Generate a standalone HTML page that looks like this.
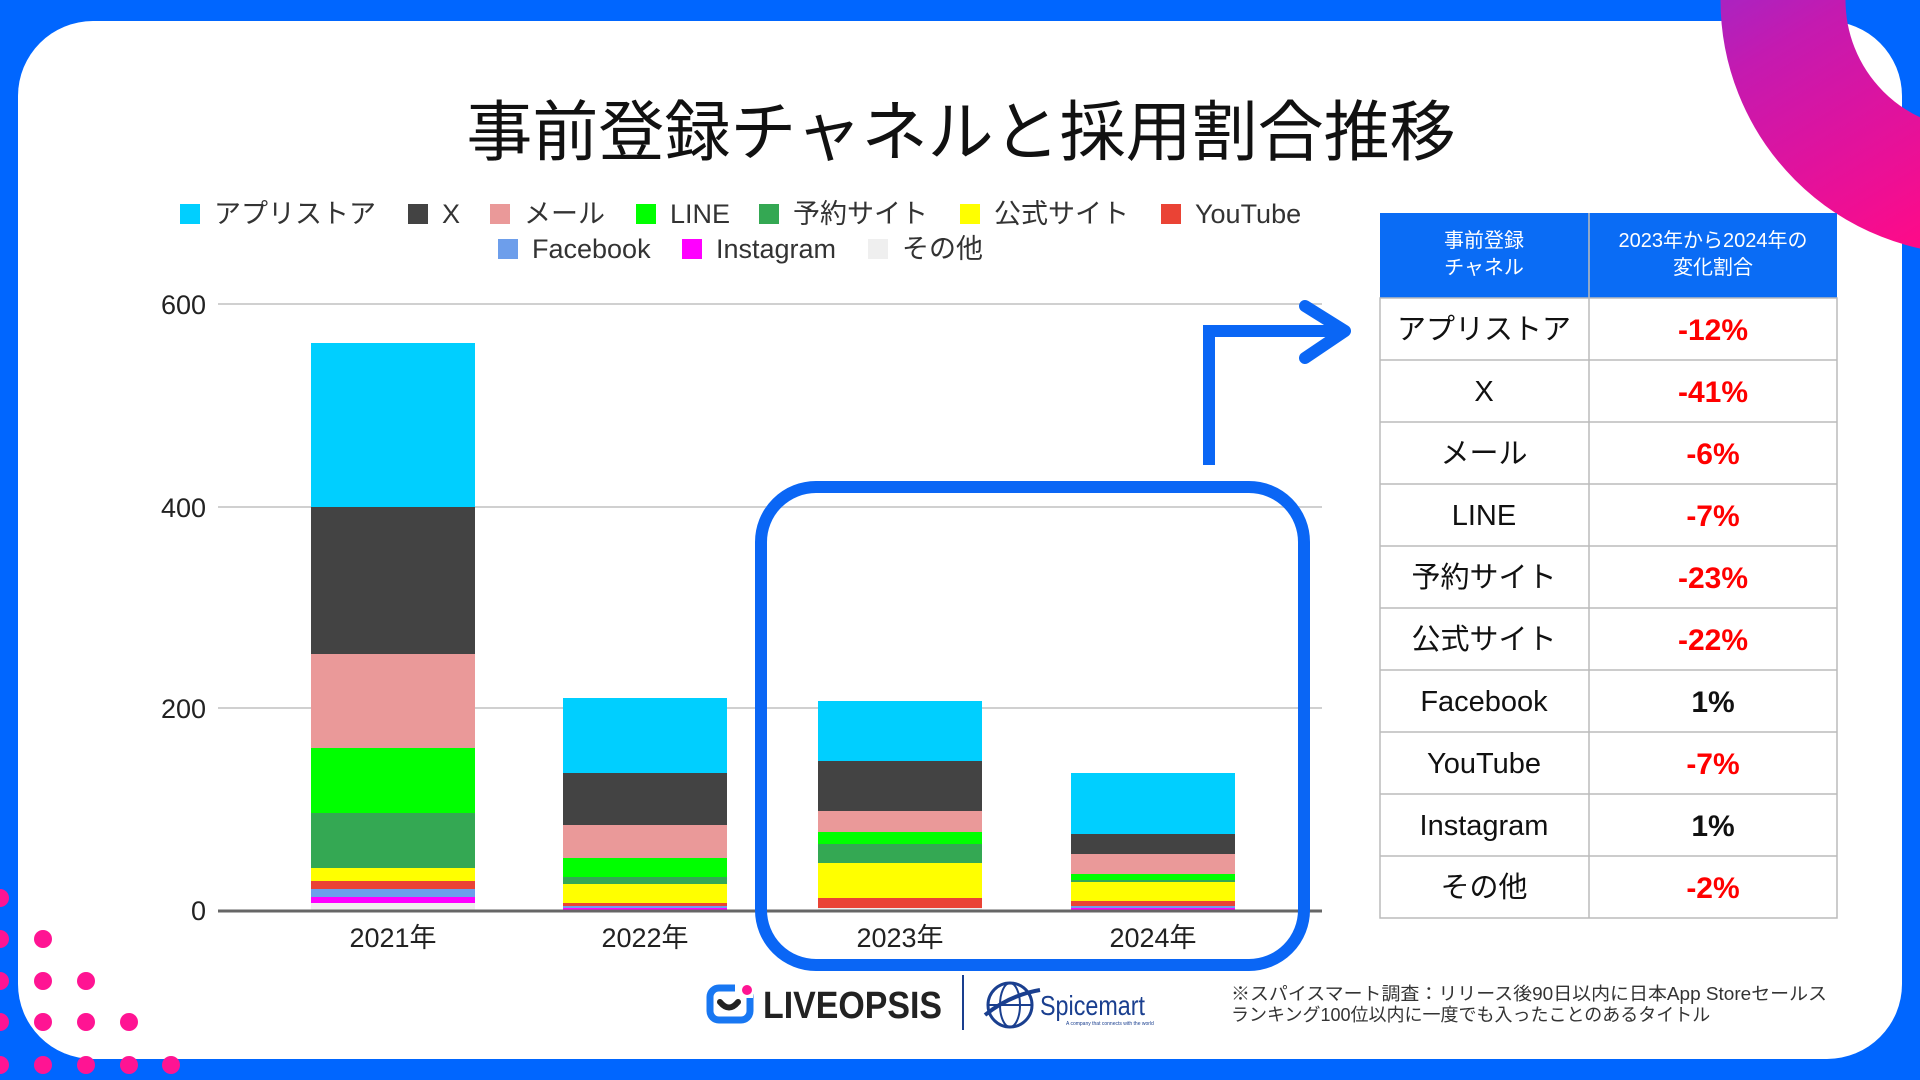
<!DOCTYPE html>
<html><head><meta charset="utf-8"><style>
html,body{margin:0;padding:0;width:1920px;height:1080px;overflow:hidden;background:#0066ff}
</style></head><body>
<svg width="1920" height="1080" viewBox="0 0 1920 1080" xmlns="http://www.w3.org/2000/svg" font-family="'Liberation Sans','Noto Sans CJK JP',sans-serif">
<defs>
<linearGradient id="g" x1="0" y1="0" x2="0.6" y2="1"><stop offset="0" stop-color="#7a35e0"/><stop offset="0.45" stop-color="#c41ab0"/><stop offset="1" stop-color="#ff0a88"/></linearGradient>
<clipPath id="cc"><rect x="0" y="0" width="1920" height="1080"/></clipPath>
</defs>
<rect x="0" y="0" width="1920" height="1080" fill="#0066ff"/>
<rect x="18" y="21" width="1884" height="1038" rx="75" fill="#fff"/>
<circle cx="1975" cy="0" r="192" fill="none" stroke="url(#g)" stroke-width="125" clip-path="url(#cc)"/>
<!-- pink dots -->
<g fill="#ff1493">
<circle cx="0" cy="898" r="9"/><circle cx="0" cy="939" r="9"/><circle cx="0" cy="981" r="9"/><circle cx="0" cy="1022" r="9"/><circle cx="0" cy="1065" r="9"/>
<circle cx="43" cy="939" r="9"/><circle cx="43" cy="981" r="9"/><circle cx="86" cy="981" r="9"/>
<circle cx="43" cy="1022" r="9"/><circle cx="86" cy="1022" r="9"/><circle cx="129" cy="1022" r="9"/>
<circle cx="43" cy="1065" r="9"/><circle cx="86" cy="1065" r="9"/><circle cx="129" cy="1065" r="9"/><circle cx="171" cy="1065" r="9"/>
</g>
<text x="961" y="155" font-size="66" text-anchor="middle" fill="#111">事前登録チャネルと採用割合推移</text>
<g font-size="27" fill="#333">
<rect x="180" y="204" width="20" height="20" fill="#00cfff"/><text x="214" y="223">アプリストア</text>
<rect x="408" y="204" width="20" height="20" fill="#434343"/><text x="442" y="223">X</text>
<rect x="490" y="204" width="20" height="20" fill="#ea9999"/><text x="524" y="223">メール</text>
<rect x="636" y="204" width="20" height="20" fill="#00ff00"/><text x="670" y="223">LINE</text>
<rect x="759" y="204" width="20" height="20" fill="#34a853"/><text x="793" y="223">予約サイト</text>
<rect x="960" y="204" width="20" height="20" fill="#ffff00"/><text x="994" y="223">公式サイト</text>
<rect x="1161" y="204" width="20" height="20" fill="#ea4335"/><text x="1195" y="223">YouTube</text>
<rect x="498" y="239" width="20" height="20" fill="#6d9eeb"/><text x="532" y="258">Facebook</text>
<rect x="682" y="239" width="20" height="20" fill="#ff00ff"/><text x="716" y="258">Instagram</text>
<rect x="868" y="239" width="20" height="20" fill="#efefef"/><text x="902" y="258">その他</text>
</g>
<g stroke="#d0d0d0" stroke-width="2">
<line x1="218" y1="304" x2="1322" y2="304"/><line x1="218" y1="507" x2="1322" y2="507"/><line x1="218" y1="708" x2="1322" y2="708"/>
</g>
<g font-size="27" fill="#222" text-anchor="end">
<text x="206" y="314">600</text><text x="206" y="517">400</text><text x="206" y="718">200</text><text x="206" y="920">0</text>
</g>
<g>
<rect x="311" y="343" width="164" height="164" fill="#00cfff"/>
<rect x="311" y="507" width="164" height="147" fill="#434343"/>
<rect x="311" y="654" width="164" height="94" fill="#ea9999"/>
<rect x="311" y="748" width="164" height="65" fill="#00ff00"/>
<rect x="311" y="813" width="164" height="55" fill="#34a853"/>
<rect x="311" y="868" width="164" height="13" fill="#ffff00"/>
<rect x="311" y="881" width="164" height="8" fill="#ea4335"/>
<rect x="311" y="889" width="164" height="8" fill="#6d9eeb"/>
<rect x="311" y="897" width="164" height="6" fill="#ff00ff"/>
<rect x="311" y="903" width="164" height="8" fill="#efefef"/>
<rect x="563" y="698" width="164" height="75" fill="#00cfff"/>
<rect x="563" y="773" width="164" height="52" fill="#434343"/>
<rect x="563" y="825" width="164" height="33" fill="#ea9999"/>
<rect x="563" y="858" width="164" height="19" fill="#00ff00"/>
<rect x="563" y="877" width="164" height="7" fill="#34a853"/>
<rect x="563" y="884" width="164" height="19" fill="#ffff00"/>
<rect x="563" y="903" width="164" height="3" fill="#ea4335"/>
<rect x="563" y="906" width="164" height="2" fill="#6d9eeb"/>
<rect x="563" y="908" width="164" height="2" fill="#ff00ff"/>
<rect x="818" y="701" width="164" height="60" fill="#00cfff"/>
<rect x="818" y="761" width="164" height="50" fill="#434343"/>
<rect x="818" y="811" width="164" height="21" fill="#ea9999"/>
<rect x="818" y="832" width="164" height="12" fill="#00ff00"/>
<rect x="818" y="844" width="164" height="19" fill="#34a853"/>
<rect x="818" y="863" width="164" height="35" fill="#ffff00"/>
<rect x="818" y="898" width="164" height="10" fill="#ea4335"/>
<rect x="818" y="908" width="164" height="3" fill="#efefef"/>
<rect x="1071" y="773" width="164" height="61" fill="#00cfff"/>
<rect x="1071" y="834" width="164" height="20" fill="#434343"/>
<rect x="1071" y="854" width="164" height="20" fill="#ea9999"/>
<rect x="1071" y="874" width="164" height="6" fill="#00ff00"/>
<rect x="1071" y="880" width="164" height="2" fill="#34a853"/>
<rect x="1071" y="882" width="164" height="19" fill="#ffff00"/>
<rect x="1071" y="901" width="164" height="5" fill="#ea4335"/>
<rect x="1071" y="906" width="164" height="2" fill="#6d9eeb"/>
<rect x="1071" y="908" width="164" height="2" fill="#ff00ff"/>
</g>
<line x1="218" y1="911" x2="1322" y2="911" stroke="#666" stroke-width="3"/>
<g font-size="27" fill="#222" text-anchor="middle">
<text x="393" y="947">2021年</text><text x="645" y="947">2022年</text><text x="900" y="947">2023年</text><text x="1153" y="947">2024年</text>
</g>
<rect x="761" y="487" width="543" height="478" rx="55" fill="none" stroke="#0a66f5" stroke-width="12"/>
<path d="M1209,465 L1209,331 L1345,331" fill="none" stroke="#0a66f5" stroke-width="12"/>
<path d="M1305,306 L1345,331 L1305,358" fill="none" stroke="#0a66f5" stroke-width="12" stroke-linecap="round" stroke-linejoin="round"/>
<rect x="1380" y="213" width="457" height="85" fill="#0a6cf5"/>
<g fill="#fff" font-size="20" text-anchor="middle">
<text x="1484" y="247">事前登録</text><text x="1484" y="274">チャネル</text>
<text x="1713" y="247">2023年から2024年の</text><text x="1713" y="274">変化割合</text>
</g>
<g stroke="#bbb" stroke-width="1.5" fill="none">
<rect x="1380" y="298" width="457" height="620"/>
<line x1="1589" y1="213" x2="1589" y2="918"/>
<line x1="1380" y1="360" x2="1837" y2="360"/><line x1="1380" y1="422" x2="1837" y2="422"/>
<line x1="1380" y1="484" x2="1837" y2="484"/><line x1="1380" y1="546" x2="1837" y2="546"/>
<line x1="1380" y1="608" x2="1837" y2="608"/><line x1="1380" y1="670" x2="1837" y2="670"/>
<line x1="1380" y1="732" x2="1837" y2="732"/><line x1="1380" y1="794" x2="1837" y2="794"/>
<line x1="1380" y1="856" x2="1837" y2="856"/>
</g>
<g font-size="29" fill="#111" text-anchor="middle">
<text x="1484" y="339">アプリストア</text><text x="1484" y="401">X</text><text x="1484" y="463">メール</text>
<text x="1484" y="525">LINE</text><text x="1484" y="587">予約サイト</text><text x="1484" y="649">公式サイト</text>
<text x="1484" y="711">Facebook</text><text x="1484" y="773">YouTube</text><text x="1484" y="835">Instagram</text><text x="1484" y="897">その他</text>
</g>
<g font-size="30" font-weight="bold" fill="#ff0000" text-anchor="middle">
<text x="1713" y="340">-12%</text><text x="1713" y="402">-41%</text><text x="1713" y="464">-6%</text>
<text x="1713" y="526">-7%</text><text x="1713" y="588">-23%</text><text x="1713" y="650">-22%</text>
<text x="1713" y="712" fill="#111">1%</text><text x="1713" y="774">-7%</text><text x="1713" y="836" fill="#111">1%</text><text x="1713" y="898">-2%</text>
</g>
<rect x="710" y="988" width="40" height="32" rx="9" fill="none" stroke="#1877f2" stroke-width="7"/>
<rect x="735" y="984" width="18" height="14" fill="#fff"/>
<circle cx="747" cy="990" r="5" fill="#ff1493"/>
<path d="M720,1002 Q729,1013 738,1002" fill="none" stroke="#222" stroke-width="6" stroke-linecap="round"/>
<text x="763" y="1018" font-size="38" font-weight="bold" fill="#222" textLength="179" lengthAdjust="spacingAndGlyphs">LIVEOPSIS</text>
<line x1="963" y1="975" x2="963" y2="1030" stroke="#1a3f8f" stroke-width="2"/>
<circle cx="1010" cy="1005" r="22" fill="none" stroke="#1a3f8f" stroke-width="3"/>
<ellipse cx="1010" cy="1005" rx="10" ry="22" fill="none" stroke="#1a3f8f" stroke-width="2"/>
<line x1="988" y1="1005" x2="1032" y2="1005" stroke="#1a3f8f" stroke-width="2"/>
<path d="M985,1015 Q1010,995 1040,990" fill="none" stroke="#1a3f8f" stroke-width="4"/>
<text x="1040" y="1015" font-size="28" fill="#1a3f8f" textLength="105" lengthAdjust="spacingAndGlyphs">Spicemart</text>
<text x="1066" y="1025" font-size="5" fill="#1a3f8f">A company that connects with the world</text>
<g font-size="18" fill="#333">
<text x="1231" y="1000" textLength="596" lengthAdjust="spacingAndGlyphs">※スパイスマート調査：リリース後90日以内に日本App Storeセールス</text>
<text x="1231" y="1021">ランキング100位以内に一度でも入ったことのあるタイトル</text>
</g>
</svg>
</body></html>
